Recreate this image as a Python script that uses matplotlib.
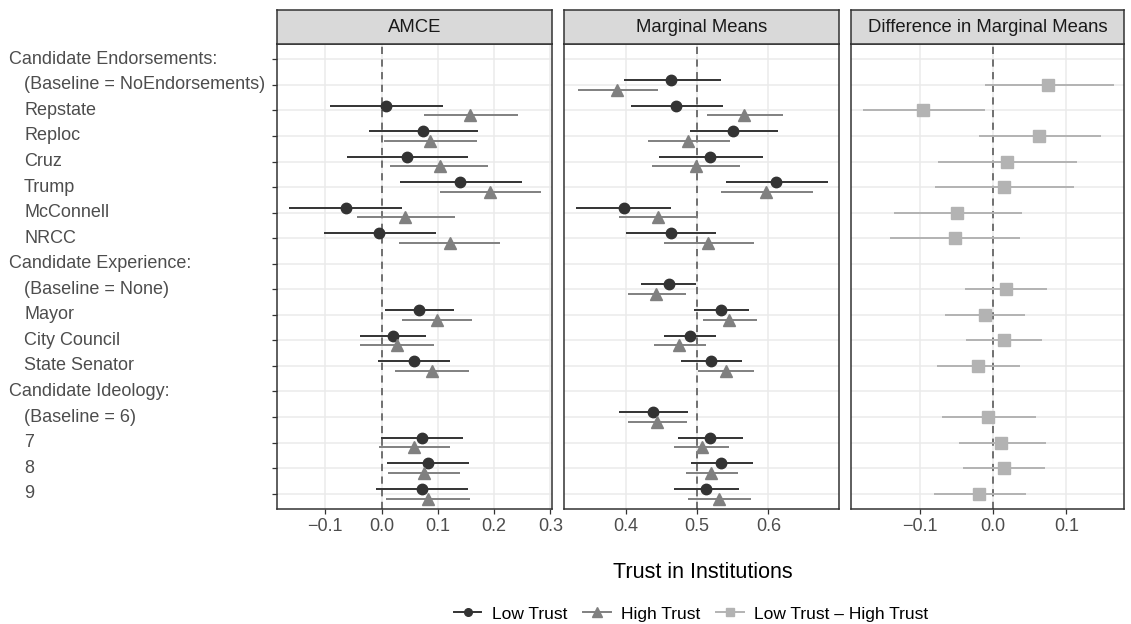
import numpy as np
import matplotlib
matplotlib.use("Agg")
import matplotlib.pyplot as plt
from matplotlib.lines import Line2D
import matplotlib.transforms as mtransforms

plt.rcParams['font.family'] = ['Liberation Sans', 'DejaVu Sans']

nan = np.nan

labels = ["Candidate Endorsements:", "(Baseline = NoEndorsements)", "Repstate", "Reploc",
          "Cruz", "Trump", "McConnell", "NRCC", "Candidate Experience:", "(Baseline = None)",
          "Mayor", "City Council", "State Senator", "Candidate Ideology:", "(Baseline = 6)",
          "7", "8", "9"]
headers = [0, 8, 13]

# AMCE
amce_low = [nan, nan, 0.007, 0.074, 0.045, 0.140, -0.064, -0.004, nan, nan, 0.067, 0.020, 0.057, nan, nan, 0.071, 0.082, 0.071]
amce_low_lo = [nan, nan, -0.091, -0.022, -0.061, 0.032, -0.164, -0.103, nan, nan, 0.006, -0.039, -0.007, nan, nan, -0.001, 0.009, -0.010]
amce_low_hi = [nan, nan, 0.109, 0.172, 0.153, 0.250, 0.036, 0.096, nan, nan, 0.129, 0.079, 0.122, nan, nan, 0.145, 0.156, 0.154]
amce_high = [nan, nan, 0.158, 0.086, 0.103, 0.193, 0.042, 0.121, nan, nan, 0.098, 0.027, 0.089, nan, nan, 0.057, 0.075, 0.082]
amce_high_lo = [nan, nan, 0.076, 0.005, 0.015, 0.104, -0.043, 0.031, nan, nan, 0.036, -0.039, 0.024, nan, nan, -0.004, 0.012, 0.008]
amce_high_hi = [nan, nan, 0.242, 0.169, 0.190, 0.283, 0.130, 0.211, nan, nan, 0.161, 0.094, 0.155, nan, nan, 0.122, 0.139, 0.157]

# Marginal means
mm_low = [nan, 0.464, 0.470, 0.550, 0.518, 0.611, 0.397, 0.463, nan, 0.460, 0.534, 0.490, 0.520, nan, 0.438, 0.518, 0.534, 0.512]
mm_low_lo = [nan, 0.397, 0.407, 0.490, 0.446, 0.540, 0.330, 0.401, nan, 0.422, 0.496, 0.454, 0.478, nan, 0.390, 0.474, 0.492, 0.468]
mm_low_hi = [nan, 0.534, 0.536, 0.613, 0.592, 0.683, 0.464, 0.527, nan, 0.499, 0.573, 0.526, 0.563, nan, 0.487, 0.564, 0.578, 0.559]
mm_high = [nan, 0.388, 0.566, 0.488, 0.498, 0.596, 0.445, 0.516, nan, 0.443, 0.545, 0.475, 0.540, nan, 0.444, 0.507, 0.520, 0.531]
mm_high_lo = [nan, 0.333, 0.514, 0.431, 0.437, 0.533, 0.390, 0.453, nan, 0.403, 0.508, 0.440, 0.501, nan, 0.403, 0.468, 0.484, 0.488]
mm_high_hi = [nan, 0.445, 0.620, 0.546, 0.560, 0.662, 0.502, 0.580, nan, 0.485, 0.584, 0.512, 0.580, nan, 0.486, 0.545, 0.558, 0.575]

# Difference in marginal means
diff = [nan, 0.075, -0.096, 0.063, 0.019, 0.014, -0.049, -0.053, nan, 0.017, -0.012, 0.014, -0.021, nan, -0.007, 0.011, 0.014, -0.020]
diff_lo = [nan, -0.012, -0.178, -0.020, -0.075, -0.080, -0.136, -0.141, nan, -0.039, -0.066, -0.037, -0.077, nan, -0.070, -0.047, -0.042, -0.081]
diff_hi = [nan, 0.165, -0.012, 0.147, 0.115, 0.111, 0.039, 0.037, nan, 0.073, 0.043, 0.066, 0.037, nan, 0.059, 0.072, 0.071, 0.045]

panels = ["AMCE", "Marginal Means", "Difference in Marginal Means"]

c_low = "#333333"
c_high = "#808080"
c_diff = "#B3B3B3"
txt = "#4D4D4D"

W, H = 1131, 624
fig = plt.figure(figsize=(W / 100, H / 100), dpi=100)

boxes = [(277, 552), (564, 839), (851, 1124)]
top, bottom = 44, 509
strip_top = 10
xlims = [(-0.186, 0.303), (0.3135, 0.699), (-0.1945, 0.1787)]
xticks = [[-0.1, 0.0, 0.1, 0.2, 0.3], [0.4, 0.5, 0.6], [-0.1, 0.0, 0.1]]
refs = [0.0, 0.5, 0.0]

y = np.arange(len(labels))
dodge = 0.19
axes = []
for i, (x0, x1) in enumerate(boxes):
    ax = fig.add_axes([x0 / W, 1 - bottom / H, (x1 - x0) / W, (bottom - top) / H])
    axes.append(ax)
    ax.set_xlim(*xlims[i])
    ax.set_ylim(len(labels) - 0.4, -0.6)
    ax.set_yticks(y)
    ax.set_xticks(xticks[i])
    ax.set_xticklabels(["\u2212%.1f" % abs(v) if v < 0 else "%.1f" % v for v in xticks[i]],
                       fontsize=13, color=txt)
    ax.grid(True, color="#EBEBEB", linewidth=1.1)
    ax.set_axisbelow(True)
    for s in ax.spines.values():
        s.set_color("#333333")
        s.set_linewidth(1.1)
    ax.tick_params(axis="both", length=3.5, color="#333333", width=0.9, pad=3)
    ax.set_yticklabels([])
    if i > 0:
        ax.tick_params(axis="y", length=0)
    ax.axvline(refs[i], color="#666666", linestyle=(0, (4, 3)), linewidth=1.3, zorder=1.5)
    # strip
    sax = fig.add_axes([x0 / W, 1 - top / H, (x1 - x0) / W, (top - strip_top) / H])
    sax.set_xticks([])
    sax.set_yticks([])
    sax.set_facecolor("#D9D9D9")
    for s in sax.spines.values():
        s.set_color("#333333")
        s.set_linewidth(1.1)
    sax.text(0.5, 0.5, panels[i], ha="center", va="center", fontsize=13.3, color="#1A1A1A",
             transform=sax.transAxes)


def draw(ax, vals, lo, hi, ypos, color, marker, ms):
    vals = np.array(vals)
    lo = np.array(lo)
    hi = np.array(hi)
    ok = ~np.isnan(vals)
    ax.hlines(ypos[ok], lo[ok], hi[ok], color=color, linewidth=1.4, zorder=3)
    ax.plot(vals[ok], ypos[ok], linestyle="none", marker=marker, color=color,
            markersize=ms, zorder=4)


draw(axes[0], amce_low, amce_low_lo, amce_low_hi, y - dodge, c_low, "o", 7.5)
draw(axes[0], amce_high, amce_high_lo, amce_high_hi, y + dodge, c_high, "^", 8.5)
draw(axes[1], mm_low, mm_low_lo, mm_low_hi, y - dodge, c_low, "o", 7.5)
draw(axes[1], mm_high, mm_high_lo, mm_high_hi, y + dodge, c_high, "^", 8.5)
draw(axes[2], diff, diff_lo, diff_hi, y.astype(float), c_diff, "s", 8)

# row labels
trans = mtransforms.blended_transform_factory(fig.transFigure, axes[0].transData)
for k, lab in enumerate(labels):
    xpos = 9 if k in headers else 24
    axes[0].text(xpos / W, k, lab, transform=trans, ha="left", va="center",
                 fontsize=13, color=txt)

fig.text(703 / W, 1 - 573 / H, "Trust in Institutions", ha="center", va="center",
         fontsize=15.5, color="black")

handles = [
    Line2D([], [], color=c_low, marker="o", markersize=5.5, linewidth=1.4),
    Line2D([], [], color=c_high, marker="^", markersize=6.5, linewidth=1.4),
    Line2D([], [], color=c_diff, marker="s", markersize=5.5, linewidth=1.4),
]
fig.legend(handles, ["Low Trust", "High Trust", "Low Trust \u2013 High Trust"],
           loc="center", bbox_to_anchor=(691 / W, 1 - 614 / H), ncol=3, frameon=False,
           fontsize=12.5, handlelength=1.6, handletextpad=0.6, columnspacing=0.9,
           labelcolor="black")

fig.savefig("out.png", dpi=100)
